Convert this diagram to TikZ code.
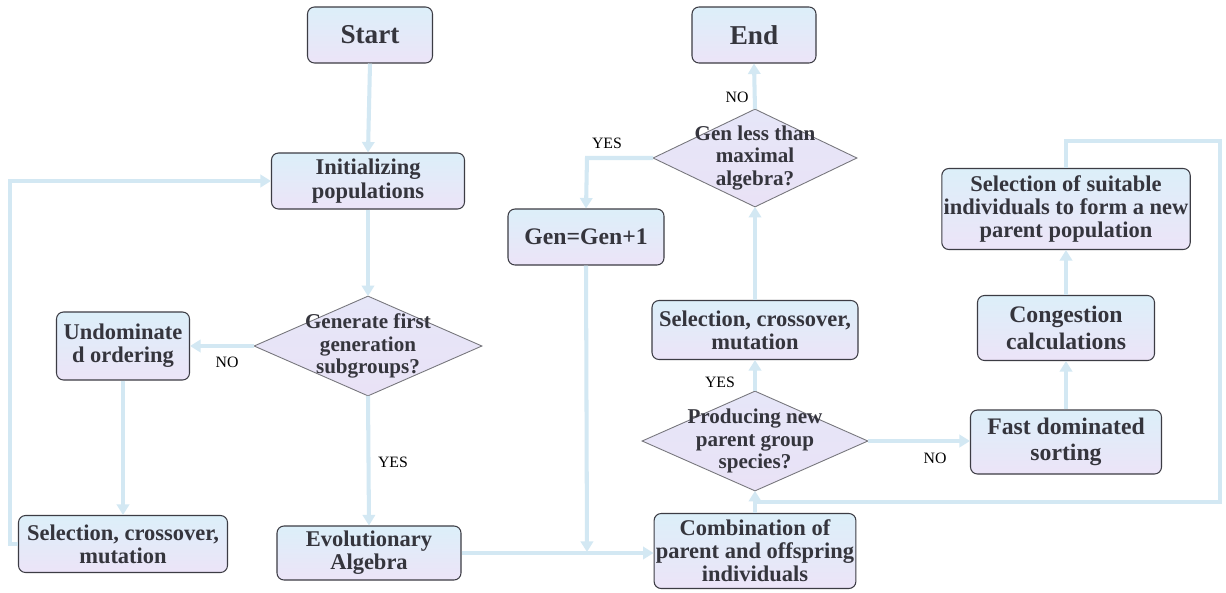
\documentclass[tikz,border=0pt]{standalone}
\usepackage{fontspec}
\setmainfont{Liberation Serif}
\usetikzlibrary{arrows.meta,calc}
\definecolor{boxtop}{HTML}{DCEFF9}
\definecolor{boxbot}{HTML}{ECE4F8}
\definecolor{dtop}{HTML}{E6E6F8}
\definecolor{dbot}{HTML}{E9E2F6}
\definecolor{edge}{HTML}{3C3C44}
\definecolor{txt}{HTML}{35353D}
\definecolor{flow}{HTML}{D3E8F3}
\def\pu{0.02cm}
\tikzset{
  procbox/.style={rectangle, rounded corners=4pt, draw=edge, line width=0.6pt,
    top color=boxtop, bottom color=boxbot, text=txt, align=center,
    font=\bfseries\fontsize{12.8}{13.2}\selectfont, inner sep=1pt},
  bigtext/.style={font=\bfseries\fontsize{13.5}{15}\selectfont},
  hugetext/.style={font=\bfseries\fontsize{15.5}{17}\selectfont},
  decbox/.style={rectangle, inner sep=0pt, text=txt, align=center,
    font=\bfseries\fontsize{12}{12.8}\selectfont},
  decshape/.style={draw=edge!70, line width=0.5pt, top color=dtop, bottom color=dbot},
  flowline/.style={draw=flow, line width=2.3pt},
  flowarrow/.style={flowline, -{Triangle[length=6pt,width=7pt]}},
  lab/.style={font=\fontsize{9}{10}\selectfont, text=black, inner sep=0pt},
}
\begin{document}
\begin{tikzpicture}[x=0.02cm, y=-0.02cm]
\useasboundingbox (0,0) rectangle (1226,592);
\fill[white] (0,0) rectangle (1226,592);

% boxes
\node[procbox, hugetext, minimum width=125*\pu, minimum height=56*\pu] (start) at (370,35) {Start};
\node[procbox, minimum width=193*\pu, minimum height=56*\pu] (init) at (368,181) {Initializing\\populations};
\node[procbox, minimum width=133*\pu, minimum height=68*\pu] (undom) at (123,346) {Undominate\\d ordering};
\node[procbox, minimum width=209*\pu, minimum height=57*\pu] (selL) at (123,544) {Selection, crossover,\\mutation};
\node[procbox, minimum width=184*\pu, minimum height=54*\pu] (evol) at (369,553) {Evolutionary\\Algebra};
\node[procbox, minimum width=196*\pu, minimum height=75*\pu] (comb) at (755,551) {Combination of\\parent and offspring\\individuals};
\node[procbox, minimum width=206*\pu, minimum height=59*\pu] (selR) at (755,330) {Selection, crossover,\\mutation};
\node[procbox, hugetext, minimum width=124*\pu, minimum height=56*\pu] (end) at (754,35) {End};
\node[procbox, bigtext, minimum width=156*\pu, minimum height=56*\pu] (gen) at (586,237) {Gen=Gen+1};
\node[procbox, bigtext, minimum width=191*\pu, minimum height=64*\pu] (fast) at (1066,442) {Fast dominated\\sorting};
\node[procbox, bigtext, minimum width=177*\pu, minimum height=65*\pu] (cong) at (1066,328) {Congestion\\calculations};
\node[procbox, minimum width=248*\pu, minimum height=81*\pu] (suit) at (1066,209) {Selection of suitable\\individuals to form a new\\parent population};

% decision diamonds
\node[decbox, minimum width=227*\pu, minimum height=99*\pu] (gd) at (368,346) {};
\node[decbox, minimum width=225*\pu, minimum height=99*\pu] (pd) at (755,441) {};
\node[decbox, minimum width=203*\pu, minimum height=97*\pu] (ld) at (755,158) {};
\foreach \d in {gd,pd,ld}
  \path[decshape] (\d.west) -- (\d.north) -- (\d.east) -- (\d.south) -- cycle;
\node[decbox] at (gd) {Generate first\\generation\\subgroups?};
\node[decbox] at (pd) {Producing new\\parent group\\species?};
\node[decbox] at (ld) {Gen less than\\maximal\\algebra?};

% junction coordinates
\coordinate (j1) at (587,552);
\coordinate (j2) at (755,502);
\coordinate (lA) at (10,544);
\coordinate (lB) at (10,181);
\coordinate (rA) at (1066,141);
\coordinate (rB) at (1220,141);
\coordinate (rC) at (1220,502);
\coordinate (gA) at (587,158);

% connectors
\draw[flowarrow] (start.south) -- (init.north);
\draw[flowarrow] (init.south) -- (gd.north);
\draw[flowarrow] (gd.west) -- (undom.east);
\draw[flowarrow] (gd.south) -- (evol.north);
\draw[flowarrow] (undom.south) -- (selL.north);
\draw[flowarrow] (selL.west) -- (lA) -- (lB) -- (init.west);
\draw[flowarrow] (evol.east) -- (evol.east -| comb.west);
\draw[flowarrow] (gen.south) -- (j1);
\draw[flowarrow] (ld.west) -- (gA) -- (gen.north);
\draw[flowarrow] (ld.north) -- (end.south);
\draw[flowarrow] (comb.north) -- (pd.south);
\draw[flowarrow] (pd.north) -- (selR.south);
\draw[flowarrow] (selR.north) -- (ld.south);
\draw[flowarrow] (pd.east) -- (pd.east -| fast.west);
\draw[flowarrow] (fast.north) -- (cong.south);
\draw[flowarrow] (cong.north) -- (suit.south);
\draw[flowline] (suit.north) -- (rA) -- (rB) -- (rC) -- (j2);

% labels
\node[lab] (lno1) at (227,362) {NO};
\node[lab] (lyes1) at (393,462) {YES};
\node[lab] (lyes2) at (607,143) {YES};
\node[lab] (lno2) at (737,97) {NO};
\node[lab] (lyes3) at (720,382) {YES};
\node[lab] (lno3) at (935,458) {NO};
\end{tikzpicture}
\end{document}
